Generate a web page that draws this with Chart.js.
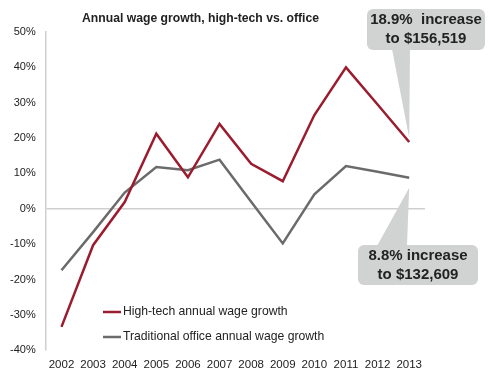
<!DOCTYPE html>
<html>
<head>
<meta charset="utf-8">
<script src="https://cdn.jsdelivr.net/npm/chart.js@4.4.0/dist/chart.umd.min.js"></script>
<style>
  html, body { margin: 0; padding: 0; background: #fff; }
  #wrap { width: 490px; height: 392px; }
</style>
</head>
<body>
<div id="wrap"><canvas id="wageChart" width="490" height="392"></canvas></div>
<script>
// data
const years = ['2002', '2003', '2004', '2005', '2006', '2007', '2008', '2009', '2010', '2011', '2012', '2013'];
const highTech = [-33.4, -10.3, 1.9, 21.2, 8.9, 24.0, 12.7, 7.8, 26.5, 40.0, 29.5, 18.9];
const office = [-17.4, -6.6, 4.6, 11.8, 10.9, 13.9, 2.0, -9.8, 4.1, 12.1, 10.5, 8.8];
const seriesNames = ['High-tech annual wage growth', 'Traditional office annual wage growth'];
const callouts = [
  { series: 0, lines: ['18.9%  increase', 'to $156,519'] },
  { series: 1, lines: ['8.8% increase', 'to $132,609'] }
];

const FONT = '"Liberation Sans", Arial, sans-serif';
const RED = '#9b1c2e';
const GREY = '#6b6b6b';

// title, legend and callout boxes
const extras = {
  id: 'extras',
  afterDatasetsDraw(chart) {
    const ctx = chart.ctx;
    const xs = chart.scales.x, ys = chart.scales.y;
    ctx.save();

    // title
    ctx.fillStyle = '#222';
    ctx.font = 'bold 12.2px ' + FONT;
    ctx.textAlign = 'left';
    ctx.textBaseline = 'middle';
    ctx.fillText('Annual wage growth, high-tech vs. office', 82, 19);

    // legend
    ctx.font = '12.2px ' + FONT;
    chart.data.datasets.forEach((ds, i) => {
      const y = 312 + i * 25;
      ctx.strokeStyle = ds.borderColor;
      ctx.lineWidth = 2.5;
      ctx.beginPath();
      ctx.moveTo(103, y);
      ctx.lineTo(121, y);
      ctx.stroke();
      ctx.fillStyle = '#222';
      ctx.fillText(ds.label, 123, y);
    });

    // callouts
    const boxes = [
      { x: 367, y: 9, w: 118, h: 41, base: [392, 410], up: false },
      { x: 358, y: 245, w: 120, h: 40, base: [377, 407], up: true }
    ];
    callouts.forEach((c, i) => {
      const b = boxes[i];
      const last = years.length - 1;
      const tipX = xs.getPixelForValue(last);
      const v = chart.data.datasets[c.series].data[last];
      const tipY = ys.getPixelForValue(v) + (b.up ? 10 : -4);
      ctx.fillStyle = '#d1d2d2';
      ctx.beginPath();
      ctx.roundRect(b.x, b.y, b.w, b.h, 6);
      ctx.fill();
      ctx.beginPath();
      const edge = b.up ? b.y + 1 : b.y + b.h - 1;
      ctx.moveTo(b.base[0], edge);
      ctx.lineTo(tipX, tipY);
      ctx.lineTo(b.base[1], edge);
      ctx.closePath();
      ctx.fill();
      ctx.fillStyle = '#222';
      ctx.font = 'bold 15px ' + FONT;
      ctx.textAlign = 'center';
      c.lines.forEach((t, j) => ctx.fillText(t, b.x + b.w / 2, b.y + 11 + j * 19));
      ctx.textAlign = 'left';
    });
    ctx.restore();
  }
};

const ctx = document.getElementById('wageChart').getContext('2d');
new Chart(ctx, {
  type: 'line',
  data: {
    labels: years,
    datasets: [
      { label: seriesNames[0], data: highTech, borderColor: RED, borderWidth: 2.5, pointRadius: 0, tension: 0, fill: false },
      { label: seriesNames[1], data: office, borderColor: GREY, borderWidth: 2.5, pointRadius: 0, tension: 0, fill: false }
    ]
  },
  options: {
    responsive: false,
    animation: false,
    layout: { padding: { left: 0, right: 65, top: 32, bottom: 12 } },
    plugins: {
      legend: { display: false },
      title: { display: false },
      tooltip: { enabled: false }
    },
    scales: {
      x: {
        offset: true,
        grid: { display: false, drawTicks: false },
        border: { display: false },
        ticks: { color: '#222', font: { family: FONT, size: 11.5 }, padding: 8, maxRotation: 0, autoSkip: false }
      },
      y: {
        min: -40,
        max: 50,
        grid: {
          drawTicks: false,
          color: c => (c.tick && c.tick.value === 0 ? '#cfcfcf' : 'rgba(0,0,0,0)'),
          lineWidth: 1.5
        },
        border: { display: true, color: '#cfcfcf', width: 1.5 },
        ticks: {
          stepSize: 10,
          color: '#222',
          padding: 10,
          font: { family: FONT, size: 11 },
          callback: v => v + '%'
        }
      }
    }
  },
  plugins: [extras]
});
</script>
</body>
</html>
